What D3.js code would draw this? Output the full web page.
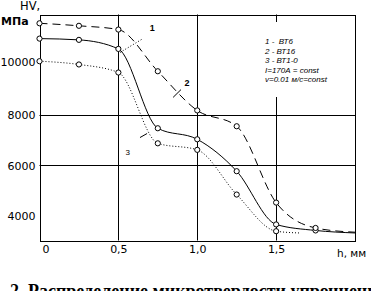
<!DOCTYPE html>
<html><head><meta charset="utf-8">
<script src="https://cdn.jsdelivr.net/npm/d3@7/dist/d3.min.js"></script>
<style>body{margin:0;background:#fff;} svg{display:block;background:#fff;}</style>
</head><body><svg id="c" width="371" height="291"></svg>
<script>
// ---- data ----
const depth   = [0, 0.25, 0.5, 0.75, 1.0, 1.25, 1.5, 1.75];
const hvVT6   = [11040, 10990, 10630, 7470, 7030, 5760, 3640, 3400];
const hvVT16  = [11650, 11550, 11400, 9740, 8180, 7550, 4510, 3500];
const hvVT10  = [10140, 10010, 9690, 6870, 6610, 4830, 3370, null];
const tailDepth = [2.0, 2.0, 1.65];
const tailHV    = [3300, 3330, 3300];
const seriesLabels = ["1", "2", "3"];
const xTicks = [0, 0.5, 1.0, 1.5];
const xTickLabels = ["0", "0,5", "1,0", "1,5"];
const yTicks = [4000, 6000, 8000, 10000];
const yGrid = [6000, 8000];
const xGrid = [0.5, 1.0, 1.5];
const legendLines = ["1 -  ВТ6", "2 - ВТ16", "3 - ВТ1-0", "I=170А = const", "v=0.01 м/с=const"];
const caption = "2. Распределение микротвердости упрочненного слоя";

// ---- drawing ----
const svg = d3.select("#c");
const x = d3.scaleLinear().domain([0, 2]).range([39.5, 355]);
const y = d3.scaleLinear().domain([3000, 12000]).range([240.5, 14.5]);
const font = "'DejaVu Sans', sans-serif";

// grid
svg.append("g").selectAll("line").data(yGrid).join("line")
  .attr("x1", x(0)).attr("x2", x(2)).attr("y1", d => Math.round(y(d)) + 0.5).attr("y2", d => Math.round(y(d)) + 0.5)
  .attr("stroke", "#000").attr("stroke-width", 1);
svg.append("g").selectAll("line").data(xGrid).join("line")
  .attr("x1", d => Math.round(x(d)) + 0.5).attr("x2", d => Math.round(x(d)) + 0.5)
  .attr("y1", y(12000)).attr("y2", y(3000))
  .attr("stroke", "#000").attr("stroke-width", 1);

// frame
svg.append("rect").attr("x", Math.round(x(0)) + 0.5).attr("y", Math.round(y(12000)) + 0.5)
  .attr("width", Math.round(x(2)) - Math.round(x(0))).attr("height", Math.round(y(3000)) - Math.round(y(12000)))
  .attr("fill", "none").attr("stroke", "#000").attr("stroke-width", 1);

// legend block (covers grid line)
svg.append("rect").attr("x", 258).attr("y", 22).attr("width", 74).attr("height", 75).attr("fill", "#fff");
svg.append("g").selectAll("text").data(legendLines).join("text")
  .attr("x", 265).attr("y", (d, i) => 44 + i * 9.6)
  .attr("font-family", "'Liberation Sans', Arial, sans-serif").attr("font-style", "italic")
  .attr("font-size", 8).style("white-space", "pre").text(d => d);

// axes
const yAxis = d3.axisLeft(y).tickValues(yTicks).tickSize(0).tickPadding(4).tickFormat(d3.format("d"));
const gy = svg.append("g").attr("transform", `translate(${x(0)},0)`).call(yAxis);
gy.select(".domain").remove();
gy.selectAll("text").attr("font-family", font).attr("font-size", 11).attr("fill", "#000")
  .attr("dy", d => d === 10000 ? "0.1em" : "0.35em");

const xAxis = d3.axisBottom(x).tickValues(xTicks).tickSize(0).tickPadding(0)
  .tickFormat((d, i) => xTickLabels[i]);
const gx = svg.append("g").attr("transform", `translate(0,${y(3000)})`).call(xAxis);
gx.select(".domain").remove();
gx.selectAll("text").attr("font-family", font).attr("font-size", 11).attr("fill", "#000")
  .attr("y", 12.5).attr("dy", 0).attr("dx", (d, i) => i === 0 ? 6 : 0);

svg.append("text").attr("x", 20).attr("y", 10).attr("font-family", font).attr("font-size", 11.5).text("HV,");
svg.append("text").attr("x", 1).attr("y", 25).attr("font-family", font).attr("font-size", 11)
  .attr("font-weight", "bold").text("МПа");
svg.append("text").attr("x", 337).attr("y", 257).attr("font-family", font).attr("font-size", 10.5).text("h, мм");

// series
const series = [
  {vals: hvVT6, dash: null},
  {vals: hvVT16, dash: "8,5"},
  {vals: hvVT10, dash: "1,2"}
];
const line = d3.line().curve(d3.curveMonotoneX).x(d => x(d[0])).y(d => y(d[1]));
series.forEach((s, k) => {
  const pts = depth.map((d, i) => [d, s.vals[i]]).filter(p => p[1] != null);
  pts.push([tailDepth[k], tailHV[k]]);
  svg.append("path").datum(pts).attr("d", line).attr("fill", "none").attr("stroke", "#000")
    .attr("stroke-width", 1).attr("stroke-dasharray", s.dash);
});
series.forEach(s => {
  const pts = depth.map((d, i) => [d, s.vals[i]]).filter(p => p[1] != null);
  svg.append("g").selectAll("circle").data(pts).join("circle")
    .attr("cx", d => x(d[0])).attr("cy", d => y(d[1])).attr("r", 2.6)
    .attr("fill", "#fff").attr("stroke", "#000").attr("stroke-width", 1);
});

// curve labels with leaders
const leaders = [
  {from: [0.511, 10490], to: [0.656, 11040], dash: "1,2", at: [0.715, 11350]},
  {from: [0.847, 8700], to: [0.897, 9010], dash: null, at: [0.935, 9150]},
  {from: [0.637, 7100], to: [0.682, 7260], dash: null, at: [0.56, 6400]}
];
leaders.forEach((l, i) => {
  svg.append("line").attr("x1", x(l.from[0])).attr("y1", y(l.from[1]))
    .attr("x2", x(l.to[0])).attr("y2", y(l.to[1])).attr("stroke", "#000").attr("stroke-width", 1)
    .attr("stroke-dasharray", l.dash);
  svg.append("text").attr("x", x(l.at[0])).attr("y", y(l.at[1])).attr("text-anchor", "middle")
    .attr("font-family", "'Liberation Sans', Arial, sans-serif").attr("font-size", i === 2 ? 8 : 9)
    .attr("font-weight", i === 2 ? "normal" : "bold").text(seriesLabels[i]);
});

// caption (cut at bottom, as in the source scan)
svg.append("text").attr("x", 10).attr("y", 297).attr("font-family", "'Liberation Serif', serif")
  .attr("font-size", 18).attr("font-weight", "bold").text(caption);
</script></body></html>
